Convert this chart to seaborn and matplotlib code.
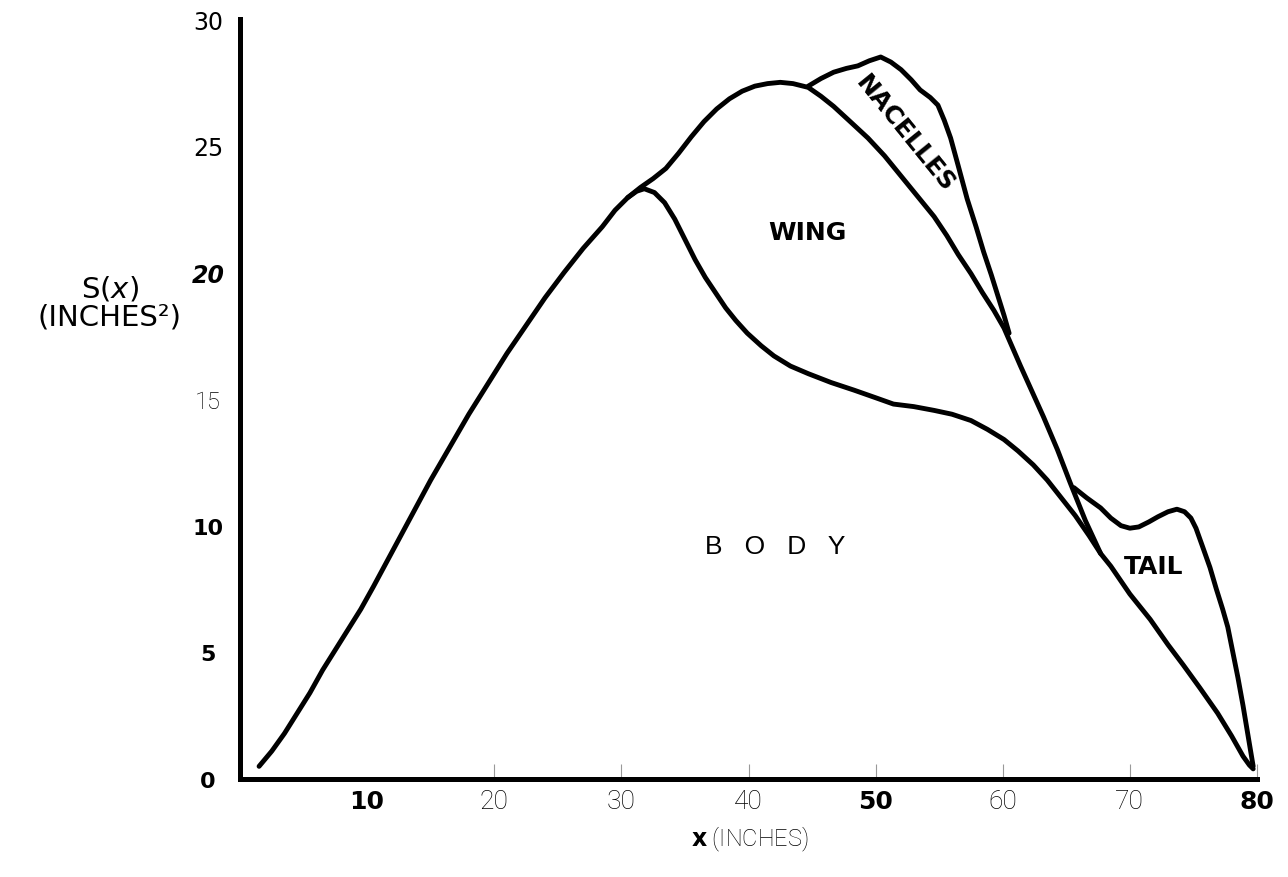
import numpy as np
import pandas as pd
import matplotlib
matplotlib.use("Agg")
import matplotlib.pyplot as plt
import seaborn as sns

# cross-section area distribution S(x)
body_x = [1.5, 2.5, 3.5, 4.5, 5.5, 6.5, 7.5, 8.5, 9.5, 10.5, 12, 13.5, 15, 16.5, 18, 19.5,
          21, 22.5, 24, 25.5, 27, 28.5, 29.5, 30.5, 31.2, 31.8, 32.6, 33.4, 34.2, 35.0,
          35.8, 36.6, 37.4, 38.2, 39.0, 39.9, 41.0, 42.0, 43.3, 44.7, 46.5, 48.3, 50, 51.4,
          53, 54.6, 56, 57.5, 58.8, 60.1, 61.2, 62.4, 63.5, 64.6, 65.7, 66.8, 67.7, 68.5,
          70, 71.6, 73, 74.2, 75.5, 76.9, 78, 78.9, 79.4, 79.7]
body_y = [0.5, 1.1, 1.8, 2.6, 3.4, 4.3, 5.1, 5.9, 6.7, 7.6, 9.0, 10.4, 11.8, 13.1, 14.4, 15.6,
          16.8, 17.9, 19.0, 20.0, 20.95, 21.8, 22.45, 22.95, 23.2, 23.3, 23.15, 22.75, 22.1, 21.3,
          20.5, 19.8, 19.2, 18.6, 18.1, 17.6, 17.1, 16.7, 16.3, 16.0, 15.65, 15.35, 15.05, 14.8,
          14.7, 14.55, 14.4, 14.15, 13.8, 13.4, 12.95, 12.4, 11.8, 11.1, 10.4, 9.6, 8.9, 8.4,
          7.3, 6.3, 5.3, 4.5, 3.6, 2.6, 1.7, 0.9, 0.55, 0.4]

wing_x = [30.5, 31.5, 32.5, 33.5, 34.5, 35.5, 36.5, 37.5, 38.5, 39.5, 40.5, 41.5, 42.5, 43.5,
          44.7, 45.7, 46.7, 48, 49.4, 50.7, 52, 53.3, 54.6, 55.6, 56.5, 57.5, 58.4, 59.3, 60.1,
          61.4, 62.3, 63.2, 64.3, 65.3, 66.5, 67.7]
wing_y = [22.95, 23.35, 23.7, 24.1, 24.7, 25.35, 25.95, 26.45, 26.85, 27.15, 27.35, 27.45, 27.5,
          27.45, 27.3, 26.95, 26.55, 25.95, 25.3, 24.6, 23.8, 23.0, 22.2, 21.45, 20.7, 19.95,
          19.2, 18.5, 17.8, 16.3, 15.3, 14.3, 13.0, 11.7, 10.2, 8.9]

nacelle_x = [44.7, 45.7, 46.7, 47.7, 48.6, 49.5, 50.4, 51.2, 52, 52.8, 53.5, 54.3, 54.9, 55.4,
             55.9, 56.5, 57.2, 57.9, 58.5, 59.1, 59.6, 60.1, 60.5]
nacelle_y = [27.35, 27.65, 27.9, 28.05, 28.15, 28.35, 28.5, 28.3, 28.0, 27.6, 27.2, 26.9, 26.6,
             26.0, 25.3, 24.2, 22.9, 21.8, 20.8, 19.9, 19.1, 18.3, 17.6]

tail_x = [65.6, 66.6, 67.7, 68.5, 69.3, 70.0, 70.7, 71.5, 72.2, 73.0, 73.7, 74.3, 74.8, 75.2,
          75.7, 76.3, 76.8, 77.3, 77.7, 78.1, 78.5, 78.9, 79.2, 79.5, 79.7]
tail_y = [11.5, 11.1, 10.7, 10.3, 10.0, 9.9, 9.95, 10.15, 10.35, 10.55, 10.65, 10.55, 10.3, 9.9,
          9.2, 8.35, 7.5, 6.7, 6.0, 5.0, 4.0, 2.9, 2.0, 1.1, 0.5]

x_ticks = [10, 20, 30, 40, 50, 60, 70, 80]
y_ticks = [0, 5, 10, 15, 20, 25, 30]

sns.set_style("white")
plt.rcParams['font.family'] = ['DejaVu Sans']
plt.rcParams['text.color'] = 'black'
plt.rcParams['axes.labelcolor'] = 'black'
plt.rcParams['xtick.color'] = 'black'
plt.rcParams['ytick.color'] = 'black'

fig = plt.figure(figsize=(12.88, 8.78), dpi=100)
ax = fig.add_axes([240 / 1288, 98 / 878, 1017 / 1288, 760 / 878])

for xs, ys in [(body_x, body_y), (wing_x, wing_y), (nacelle_x, nacelle_y), (tail_x, tail_y)]:
    df = pd.DataFrame({"x": xs, "S": ys})
    sns.lineplot(data=df, x="x", y="S", sort=False, estimator=None, ax=ax,
                 color="black", linewidth=3.5, solid_capstyle="round", solid_joinstyle="round")

ax.set_xlim(0, 80)
ax.set_ylim(0, 30)

for side in ["top", "right"]:
    ax.spines[side].set_visible(False)
for side in ["left", "bottom"]:
    ax.spines[side].set_linewidth(3.6)
    ax.spines[side].set_color("black")

# x ticks: thin grey marks drawn above the axis, none at 10
ax.set_xticks(x_ticks, [str(t) for t in x_ticks])
ax.tick_params(axis="x", direction="in", length=11, width=0.8, color="#999999",
               labelcolor="black", pad=7, bottom=True)
ax.xaxis.get_major_ticks()[0].tick1line.set_visible(False)
for lab in ax.get_xticklabels():
    if lab.get_text() in ("10", "50", "80"):
        lab.set_fontweight("bold")
        lab.set_fontsize(18)
    else:
        lab.set_fontfamily("Roboto")
        lab.set_fontweight("light")
        lab.set_fontsize(19)

# y ticks, centred about 32 px left of the axis
ax.set_yticks(y_ticks, [str(t) for t in y_ticks])
ax.tick_params(axis="y", length=0, pad=23)
for lab in ax.get_yticklabels():
    lab.set_ha("center")
    t = lab.get_text()
    if t in ("0", "5", "10"):
        lab.set_fontweight("bold")
        lab.set_fontsize(16)
    elif t == "20":
        lab.set_fontweight("bold")
        lab.set_fontstyle("italic")
        lab.set_fontsize(17)
    elif t == "15":
        lab.set_fontweight("light")
        lab.set_fontfamily("Roboto")
        lab.set_fontsize(17)
    else:
        lab.set_fontsize(17)

ax.set_xlabel(r"$\mathbf{x}$ (INCHES)", fontsize=17, fontfamily="Roboto", fontweight="light",
              va="center")
ax.xaxis.set_label_coords(0.501, -0.078)
ax.set_ylabel("S($x$)\n(INCHES²)", fontsize=21, rotation=0, ha="center", va="center",
              linespacing=1.0)
ax.yaxis.set_label_coords(-0.128, 0.628)

ax.text(44.6, 21.6, "WING", fontsize=18, fontweight="bold", ha="center", va="center")
ax.text(52.3, 25.5, "NACELLES", fontsize=18, fontweight="bold", ha="center", va="center",
        rotation=-51)
ax.text(42.1, 9.2, "B   O   D   Y", fontsize=19, fontfamily="Liberation Sans",
        ha="center", va="center")
ax.text(71.9, 8.4, "TAIL", fontsize=18, fontweight="bold", ha="center", va="center")

fig.savefig("out.png", dpi=100)
